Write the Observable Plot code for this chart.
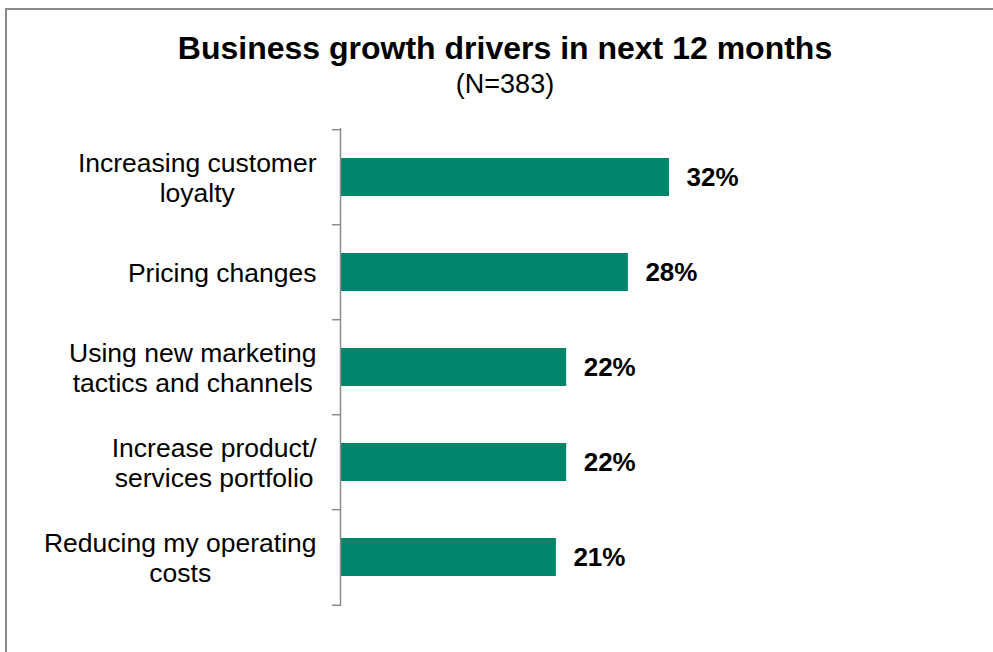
<!DOCTYPE html>
<html>
<head>
<meta charset="utf-8">
<script src="https://cdn.jsdelivr.net/npm/d3@7"></script>
<script src="https://cdn.jsdelivr.net/npm/@observablehq/plot@0.6"></script>
<style>
  html, body { margin: 0; padding: 0; background: #fff; }
  #wrap { position: relative; width: 993px; height: 652px; overflow: hidden; font-family: "Liberation Sans", Arial, sans-serif; }
  .bt { position: absolute; top: 8px; left: 5px; right: 0; height: 2px; background: #8a8a8a; }
  .bl { position: absolute; top: 8px; left: 5px; bottom: 0; width: 2px; background: #8a8a8a; }
  #title { position: absolute; top: 32px; left: 5px; width: 1000px; text-align: center; font-size: 32px; font-weight: bold; line-height: 1; color: #000; }
  #subtitle { position: absolute; top: 71px; left: 5px; width: 1000px; text-align: center; font-size: 27px; line-height: 1; color: #000; }
  #chart { position: absolute; top: 0; left: 0; }
</style>
</head>
<body>
<div id="wrap">
  <div class="bt"></div>
  <div class="bl"></div>
  <div id="title">Business growth drivers in next 12 months</div>
  <div id="subtitle">(N=383)</div>
  <div id="chart"></div>
</div>
<script>
const categories = [
  "Increasing customer\nloyalty",
  "Pricing changes",
  "Using new marketing\ntactics and channels",
  "Increase product/\nservices portfolio",
  "Reducing my operating\ncosts"
];
const values = [32, 28, 22, 22, 21];

const data = categories.map((c, i) => ({label: c, value: values[i]}));

const W = 993, H = 652, mT = 128, mB = 46, mL = 340, mR = 324;
const step = (H - mT - mB) / categories.length;
const pxPerUnit = (W - mL - mR) / 32;
const tickLen = 8 / pxPerUnit;
const labelFont = 26.5;
const fontFamily = "'Liberation Sans', Arial, sans-serif";

// measure label block widths so multi-line labels can be centred like the original
const ctx = document.createElement("canvas").getContext("2d");
ctx.font = `${labelFont}px ${fontFamily}`;
const blockWidth = c => Math.max(...c.split("\n").map(s => ctx.measureText(s).width));

const labelMarks = categories.map(c =>
  Plot.text([c], {
    x: 0, y: d => d, text: d => d,
    textAnchor: "middle",
    dx: -24 - blockWidth(c) / 2,
    fontSize: labelFont, lineHeight: 1.13, fill: "#000"
  })
);

const chart = Plot.plot({
  width: W,
  height: H,
  marginTop: mT,
  marginBottom: mB,
  marginLeft: mL,
  marginRight: mR,
  style: {fontFamily, color: "#000", background: "transparent", overflow: "visible"},
  x: {domain: [0, 32], axis: null},
  y: {domain: categories, paddingInner: 0.6, paddingOuter: 0.3, axis: null},
  marks: [
    Plot.barX(data, {x: "value", y: "label", fill: "#00856A"}),
    Plot.text(data, {x: "value", y: "label", text: d => d.value + "%", textAnchor: "start", dx: 17, fontWeight: "bold", fontSize: 26, fill: "#000"}),
    Plot.ruleX([0], {stroke: "#8c8c8c", strokeWidth: 1.5}),
    Plot.ruleY(categories, {y: d => d, x1: -tickLen, x2: 0, dy: -step / 2, stroke: "#8c8c8c", strokeWidth: 1.5}),
    Plot.ruleY(categories.slice(-1), {y: d => d, x1: -tickLen, x2: 0, dy: step / 2, stroke: "#8c8c8c", strokeWidth: 1.5}),
    ...labelMarks
  ]
});
document.getElementById("chart").appendChild(chart);
</script>
</body>
</html>
